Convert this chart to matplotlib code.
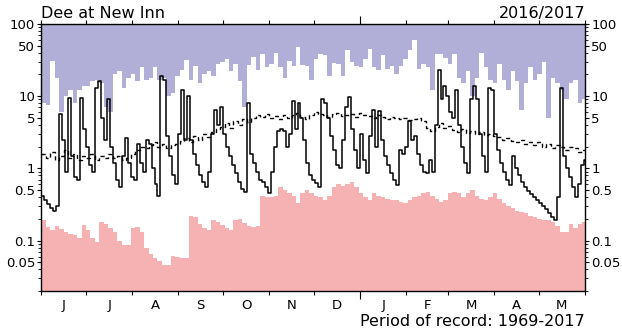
import numpy as np
import matplotlib
matplotlib.use('Agg')
import matplotlib.pyplot as plt
from matplotlib.ticker import FixedLocator, NullFormatter, FixedFormatter

title = "Dee at New Inn"
year_label = "2016/2017"
record_label = "Period of record: 1969-2017"
month_labels = ['J', 'J', 'A', 'S', 'O', 'N', 'D', 'J', 'F', 'M', 'A', 'M']
month_starts = [0, 30, 61, 92, 122, 153, 183, 214, 245, 273, 304, 334, 365]
n_days = 365

# daily flow (m3/s), one value per 2 days, June 2016 - May 2017
flow_step = 2
flow = [0.42, 0.36, 0.32, 0.28, 0.26, 0.3, 5.6, 2.5, 0.9, 9.4,
        1.5, 0.75, 0.7, 9.4, 3.5, 2.0, 1.1, 0.9, 13, 16,
        5, 2.5, 9, 2.0, 1.2, 0.7, 0.55, 1.5, 2.6, 1.2,
        0.75, 0.7, 2.2, 1.2, 0.9, 2.5, 2.2, 1.0, 0.6, 0.42,
        19, 17, 2.8, 1.5, 0.8, 0.6, 3, 12, 2.5, 10,
        2.5, 1.6, 1.1, 0.8, 0.65, 0.55, 0.9, 3, 6.5, 4,
        7, 3, 2.0, 1.5, 1.1, 0.85, 0.65, 0.52, 0.47, 8,
        1.6, 1.2, 0.9, 0.7, 0.65, 0.55, 0.45, 0.9, 2.0, 3.3,
        3.5, 3.3, 2.0, 3, 8.5, 3.5, 8, 5, 2.5, 1.2,
        0.8, 0.7, 0.62, 0.55, 9, 8, 5, 2.8, 1.8, 1.1,
        1.0, 2.5, 7, 9.8, 3.5, 1.8, 1.0, 3, 1.3, 0.85,
        2.8, 6.5, 2.0, 6.3, 2.5, 1.5, 1.1, 0.85, 0.7, 0.58,
        1.8, 1.6, 2.0, 4.5, 2.5, 2.8, 1.6, 1.1, 0.9, 0.85,
        1.3, 0.9, 4, 23, 9, 14, 10, 6, 5, 12,
        4, 2.0, 1.2, 0.85, 9, 14, 9, 3, 1.5, 0.9,
        13, 12, 3, 1.8, 1.2, 0.9, 0.7, 0.58, 1.5, 1.0,
        0.8, 0.65, 0.55, 0.48, 0.44, 0.4, 0.36, 0.33, 0.3, 0.27,
        0.24, 0.21, 0.19, 0.4, 13, 1.5, 1.0, 0.75, 0.55, 0.4,
        0.6, 1.1, 1.3]

# envelope series, one value per 3 days
env_step = 3
max_flow = [8, 7.5, 31, 18, 6, 10, 12, 8, 12, 14,
            14, 16, 17, 15, 7, 6, 20, 22, 13, 18,
            20, 16, 25, 17, 18, 25, 17, 18, 10, 11,
            19, 23, 32, 17, 26, 15, 20, 22, 19, 28,
            30, 33, 22, 28, 16, 7, 27, 35, 23, 38,
            25, 28, 40, 25, 18, 31, 26, 48, 27, 26,
            17, 33, 38, 37, 19, 29, 28, 19, 43, 30,
            26, 25, 33, 45, 25, 23, 37, 24, 26, 20,
            26, 33, 43, 60, 24, 28, 25, 12, 39, 39,
            34, 28, 38, 18, 15, 22, 10, 18, 40, 25,
            17, 15, 28, 17, 12, 22, 16, 6.5, 15, 25,
            17, 20, 30, 5, 18, 15, 12, 9, 15, 17, 8, 9]

min_flow = [0.19, 0.155, 0.14, 0.16, 0.145, 0.13, 0.125, 0.12, 0.11, 0.165,
            0.14, 0.11, 0.097, 0.18, 0.17, 0.15, 0.13, 0.1, 0.088, 0.086,
            0.15, 0.155, 0.13, 0.08, 0.065, 0.058, 0.052, 0.046, 0.046, 0.062,
            0.06, 0.058, 0.057, 0.22, 0.21, 0.17, 0.148, 0.14, 0.19, 0.18,
            0.165, 0.15, 0.14, 0.19, 0.2, 0.175, 0.16, 0.155, 0.16, 0.42,
            0.4, 0.4, 0.42, 0.55, 0.5, 0.45, 0.42, 0.33, 0.45, 0.5,
            0.46, 0.42, 0.4, 0.37, 0.42, 0.55, 0.6, 0.57, 0.6, 0.65,
            0.55, 0.45, 0.4, 0.36, 0.45, 0.42, 0.4, 0.38, 0.37, 0.36,
            0.34, 0.33, 0.37, 0.4, 0.42, 0.45, 0.47, 0.42, 0.38, 0.34,
            0.36, 0.45, 0.47, 0.45, 0.4, 0.45, 0.5, 0.42, 0.38, 0.37,
            0.4, 0.45, 0.38, 0.33, 0.3, 0.28, 0.26, 0.25, 0.24, 0.22,
            0.21, 0.2, 0.19, 0.19, 0.18, 0.16, 0.13, 0.13, 0.17, 0.15, 0.17, 0.18]

mean_flow = [1.6, 1.4, 1.7, 1.3, 1.5, 1.8, 1.4, 1.6, 1.3, 1.5, 1.4, 1.6,
             1.3, 1.5, 1.4, 1.6, 1.4, 1.5, 1.3, 1.4,
             1.6, 1.8, 2.0, 1.9, 2.1, 2.3, 2.0, 2.2, 1.9, 2.1,
             2.2, 2.4, 2.6, 2.3, 2.8, 2.5, 3.0, 2.7, 3.2, 3.5,
             3.8, 4.2, 3.6, 4.5, 4.0, 4.8, 4.4, 5.0, 5.5, 5.2,
             5.6, 5.0, 5.3, 4.8, 5.5, 5.0, 5.4, 5.8, 5.2, 4.9,
             5.5, 6.0, 5.7, 5.4, 5.2, 5.6, 5.9, 5.3, 5.5, 5.7,
             5.2, 5.8, 5.5, 5.3, 5.0, 5.4, 5.1, 4.9, 5.2, 5.0,
             4.8, 5.0, 4.7, 4.8, 5.0, 4.5, 3.6, 3.3, 3.8, 4.2,
             3.6, 3.9, 3.4, 3.2, 3.5, 3.1, 3.3, 3.0, 3.2, 2.9,
             3.0, 2.8, 2.7, 2.5, 2.6, 2.4, 2.3, 2.5, 2.2, 2.3,
             2.1, 2.3, 2.0, 2.2, 1.9, 2.1, 2.0, 1.8, 2.0, 1.9, 1.7, 1.8]

ytick_vals = [0.05, 0.1, 0.5, 1, 5, 10, 50, 100]
ytick_labels = ['0.05', '0.1', '0.5', '1', '5', '10', '50', '100']
y_min, y_max = 0.02, 100

purple = '#b1afd7'
pink = '#f6b1b3'


def edges_for(values, step):
    e = np.arange(len(values) + 1) * step
    return np.minimum(e, n_days)


def ext(values):
    v = np.asarray(values, dtype=float)
    return np.append(v, v[-1])


fig = plt.figure(figsize=(6.22, 3.34), dpi=100)
ax = fig.add_axes([41.3 / 622, 1 - 291 / 334, (585 - 41.3) / 622, (291 - 24) / 334])

e_env = edges_for(max_flow, env_step)
ax.fill_between(e_env, ext(max_flow), y_max, step='post', color=purple, lw=0)
e_min = edges_for(min_flow, env_step)
ax.fill_between(e_min, y_min, ext(min_flow), step='post', color=pink, lw=0)

e_mean = edges_for(mean_flow, env_step)
ax.step(e_mean, ext(mean_flow), where='post', color='black', lw=1.0,
        dashes=(3, 2))
e_flow = edges_for(flow, flow_step)
ax.step(e_flow, ext(flow), where='post', color='black', lw=1.1)

ax.set_yscale('log')
ax.set_ylim(y_min, y_max)
ax.set_xlim(0, n_days)

ax.yaxis.set_major_locator(FixedLocator(ytick_vals))
ax.yaxis.set_major_formatter(FixedFormatter(ytick_labels))
minor_y = [m * 10.0 ** e for e in range(-2, 2) for m in (2, 3, 4, 6, 7, 8, 9)]
ax.yaxis.set_minor_locator(FixedLocator(minor_y))
ax.yaxis.set_minor_formatter(NullFormatter())
ax.tick_params(axis='y', which='major', direction='out', length=3, width=0.8,
               left=True, right=True, labelleft=True, labelright=True,
               labelsize=9.5, pad=1.5)
ax.tick_params(axis='y', which='minor', direction='out', length=2, width=0.6,
               left=True, right=True)

ax.xaxis.set_major_locator(FixedLocator(month_starts))
ax.xaxis.set_major_formatter(NullFormatter())
mids = [(month_starts[i] + month_starts[i + 1]) / 2 for i in range(12)]
ax.xaxis.set_minor_locator(FixedLocator(mids))
ax.xaxis.set_minor_formatter(FixedFormatter(month_labels))
ax.tick_params(axis='x', which='major', direction='out', length=3, width=0.8,
               top=True, bottom=True)
ax.tick_params(axis='x', which='minor', length=0, labelsize=9.5, pad=6,
               top=False)
jt = ax.xaxis.get_major_ticks()[7]
jt.tick1line.set_markersize(6)
jt.tick2line.set_markersize(6)

for s in ax.spines.values():
    s.set_linewidth(1.0)

ax.text(0.0, 1 + 6 / 267, title, transform=ax.transAxes, ha='left',
        va='baseline', fontsize=11.5)
ax.text(1.0, 1 + 6 / 267, year_label, transform=ax.transAxes, ha='right',
        va='baseline', fontsize=11.5)
ax.text(1.0, -34.5 / 267, record_label, transform=ax.transAxes, ha='right',
        va='baseline', fontsize=11.5)

fig.savefig('out.png', dpi=100)
